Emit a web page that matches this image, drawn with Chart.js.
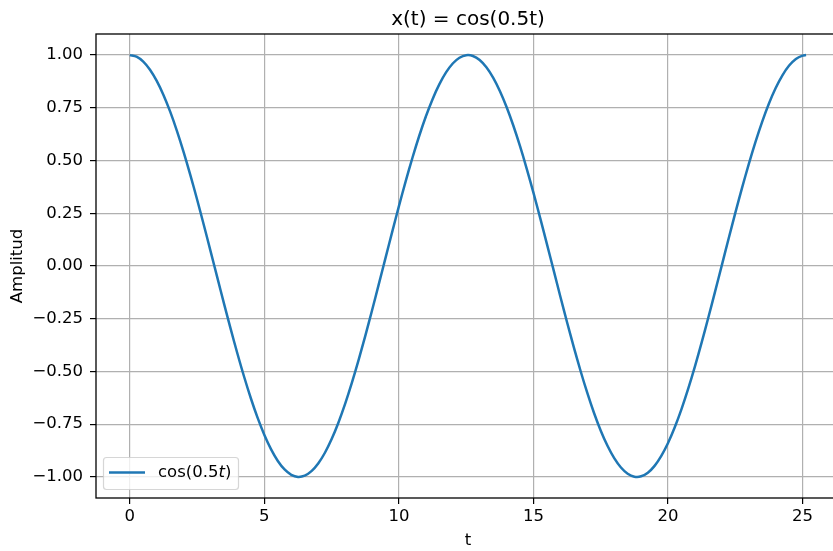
<!DOCTYPE html>
<html>
<head>
<meta charset="utf-8">
<script src="https://cdn.jsdelivr.net/npm/chart.js@4/dist/chart.umd.min.js"></script>
<style>
  html, body { margin: 0; padding: 0; background: #fff; overflow: hidden; }
  #wrap { width: 833px; height: 551px; overflow: hidden; }
  canvas { display: block; }
</style>
</head>
<body>
<div id="wrap"><canvas id="c" width="936" height="551"></canvas></div>
<script>
// Sample times t and the signal x(t) = cos(0.5t) at those times
const tValues = [
  0, 0.25, 0.5, 0.75, 1, 1.25, 1.5, 1.75, 2, 2.25,
  2.5, 2.75, 3, 3.25, 3.5, 3.75, 4, 4.25, 4.5, 4.75,
  5, 5.25, 5.5, 5.75, 6, 6.25, 6.5, 6.75, 7, 7.25,
  7.5, 7.75, 8, 8.25, 8.5, 8.75, 9, 9.25, 9.5, 9.75,
  10, 10.25, 10.5, 10.75, 11, 11.25, 11.5, 11.75, 12, 12.25,
  12.5, 12.75, 13, 13.25, 13.5, 13.75, 14, 14.25, 14.5, 14.75,
  15, 15.25, 15.5, 15.75, 16, 16.25, 16.5, 16.75, 17, 17.25,
  17.5, 17.75, 18, 18.25, 18.5, 18.75, 19, 19.25, 19.5, 19.75,
  20, 20.25, 20.5, 20.75, 21, 21.25, 21.5, 21.75, 22, 22.25,
  22.5, 22.75, 23, 23.25, 23.5, 23.75, 24, 24.25, 24.5, 24.75,
  25, 25.13
];
const xValues = [
  1.0000, 0.9922, 0.9689, 0.9305, 0.8776, 0.8110, 0.7317, 0.6410, 0.5403, 0.4312,
  0.3153, 0.1945, 0.0707, -0.0542, -0.1782, -0.2995, -0.4161, -0.5263, -0.6282, -0.7203,
  -0.8011, -0.8695, -0.9243, -0.9647, -0.9900, -0.9999, -0.9941, -0.9729, -0.9365, -0.8854,
  -0.8206, -0.7429, -0.6536, -0.5542, -0.4461, -0.3310, -0.2108, -0.0873, 0.0376, 0.1619,
  0.2837, 0.4010, 0.5121, 0.6152, 0.7087, 0.7911, 0.8612, 0.9178, 0.9602, 0.9875,
  0.9994, 0.9958, 0.9766, 0.9421, 0.8930, 0.8299, 0.7539, 0.6661, 0.5679, 0.4609,
  0.3466, 0.2270, 0.1037, -0.0210, -0.1455, -0.2677, -0.3857, -0.4978, -0.6020, -0.6969,
  -0.7808, -0.8526, -0.9111, -0.9554, -0.9848, -0.9988, -0.9972, -0.9800, -0.9476, -0.9004,
  -0.8391, -0.7647, -0.6784, -0.5815, -0.4755, -0.3622, -0.2431, -0.1203, 0.0044, 0.1291,
  0.2517, 0.3704, 0.4833, 0.5887, 0.6849, 0.7704, 0.8439, 0.9042, 0.9504, 0.9817,
  0.9978, 1.0000
];
const xTicks = [0, 5, 10, 15, 20, 25];
const yTicks = [-1.00, -0.75, -0.50, -0.25, 0.00, 0.25, 0.50, 0.75, 1.00];

const FONT = "'DejaVu Sans', 'Liberation Sans', sans-serif";
const LINE_COLOR = '#1f77b4';
const FS = 16.5;

Chart.defaults.color = '#000';
Chart.defaults.font.family = FONT;
Chart.defaults.font.size = FS;

function fmtY(v) {
  return v.toFixed(2).replace('-', '\u2212');
}

// Frame around the plotting area plus the legend box in the lower-left corner
const framePlugin = {
  id: 'frame',
  afterDraw(chart) {
    const { ctx, chartArea: a } = chart;
    ctx.save();
    ctx.strokeStyle = '#000';
    ctx.lineWidth = 1.3;
    ctx.strokeRect(a.left, a.top, a.right - a.left, a.bottom - a.top);

    // legend
    const bx = 103.5, by = 457.5, bw = 135, bh = 32, r = 3;
    ctx.beginPath();
    ctx.moveTo(bx + r, by);
    ctx.lineTo(bx + bw - r, by);
    ctx.arcTo(bx + bw, by, bx + bw, by + r, r);
    ctx.lineTo(bx + bw, by + bh - r);
    ctx.arcTo(bx + bw, by + bh, bx + bw - r, by + bh, r);
    ctx.lineTo(bx + r, by + bh);
    ctx.arcTo(bx, by + bh, bx, by + bh - r, r);
    ctx.lineTo(bx, by + r);
    ctx.arcTo(bx, by, bx + r, by, r);
    ctx.closePath();
    ctx.fillStyle = 'rgba(255,255,255,0.8)';
    ctx.fill();
    ctx.strokeStyle = 'rgba(204,204,204,0.8)';
    ctx.lineWidth = 1.2;
    ctx.stroke();

    ctx.strokeStyle = LINE_COLOR;
    ctx.lineWidth = 2.5;
    ctx.beginPath();
    ctx.moveTo(109, 472.5);
    ctx.lineTo(145, 472.5);
    ctx.stroke();

    ctx.fillStyle = '#000';
    ctx.textBaseline = 'middle';
    ctx.textAlign = 'left';
    let tx = 158;
    const ty = 473;
    ctx.font = FS + 'px ' + FONT;
    ctx.fillText('cos(0.5', tx, ty);
    tx += ctx.measureText('cos(0.5').width;
    ctx.font = 'italic ' + FS + 'px ' + FONT;
    ctx.fillText('t', tx, ty);
    tx += ctx.measureText('t').width;
    ctx.font = FS + 'px ' + FONT;
    ctx.fillText(')', tx, ty);
    ctx.restore();
  }
};

new Chart(document.getElementById('c'), {
  type: 'line',
  data: {
    datasets: [{
      label: 'cos(0.5t)',
      data: tValues.map((t, i) => ({ x: t, y: xValues[i] })),
      borderColor: LINE_COLOR,
      borderWidth: 2.5,
      pointRadius: 0,
      fill: false,
      tension: 0.3
    }]
  },
  options: {
    responsive: false,
    animation: false,
    devicePixelRatio: 1,
    layout: { padding: 0 },
    plugins: {
      legend: { display: false },
      tooltip: { enabled: false },
      title: {
        display: true,
        text: 'x(t) = cos(0.5t)',
        color: '#000',
        font: { size: 20, weight: 'normal', family: FONT },
        padding: { top: 7.5, bottom: 2.5 }
      }
    },
    scales: {
      x: {
        type: 'linear',
        min: -1.2566,
        max: 26.39,
        afterBuildTicks(scale) { scale.ticks = xTicks.map(v => ({ value: v })); },
        afterFit(scale) { scale.height = 53; },
        ticks: { padding: 3, color: '#000', callback: v => String(v) },
        grid: { color: '#b0b0b0', lineWidth: 1.2, tickLength: 6, tickColor: '#000', tickWidth: 1.2 },
        border: { display: false },
        title: { display: true, text: 't', color: '#000', font: { size: FS }, padding: { top: 0, bottom: 0 } }
      },
      y: {
        type: 'linear',
        position: 'left',
        min: -1.1,
        max: 1.1,
        afterBuildTicks(scale) { scale.ticks = yTicks.map(v => ({ value: v })); },
        afterFit(scale) { scale.width = 96; },
        ticks: { padding: 7, color: '#000', callback: v => fmtY(v) },
        grid: { color: '#b0b0b0', lineWidth: 1.2, tickLength: 6, tickColor: '#000', tickWidth: 1.2 },
        border: { display: false },
        title: { display: true, text: 'Amplitud', color: '#000', font: { size: FS }, padding: { top: 7.4, bottom: 0 } }
      },
      // empty right-hand margin so the plot area sits centred under the title
      yRight: {
        type: 'linear',
        position: 'right',
        min: -1.1,
        max: 1.1,
        afterFit(scale) { scale.width = 96; },
        ticks: { display: false },
        grid: { display: false, drawOnChartArea: false },
        border: { display: false },
        title: { display: false }
      }
    }
  },
  plugins: [framePlugin]
});
</script>
</body>
</html>
